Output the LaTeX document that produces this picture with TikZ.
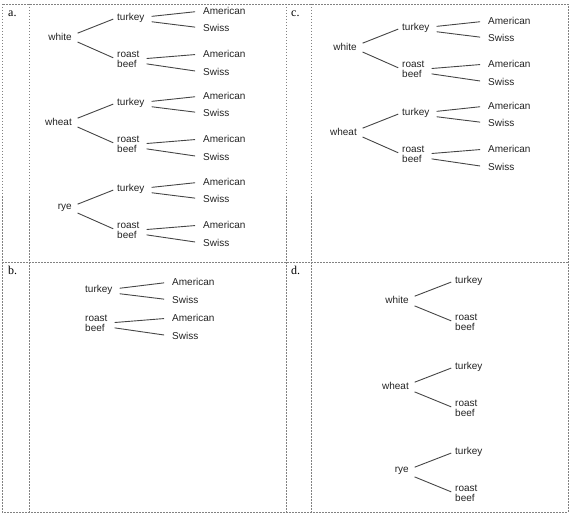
\documentclass[tikz,border=0pt]{standalone}
\usepackage{fontspec}
\setmainfont{Liberation Serif}
\setsansfont{Liberation Sans}
\definecolor{ink}{RGB}{35,35,35}
\definecolor{stem}{RGB}{70,70,70}
\definecolor{rule}{RGB}{130,130,130}
\usetikzlibrary{positioning}

\begin{document}
\begin{tikzpicture}[x=1pt, y=-1pt,
    word/.style={font=\sffamily\fontsize{10}{10}\selectfont, text=ink, align=left, inner sep=1pt},
    tag/.style={font=\fontsize{12}{12}\selectfont, anchor=base west, inner sep=0pt},
    cell/.style={draw=rule, line width=0.6pt, dash pattern=on 1.5pt off 1.5pt},
    limb/.style={draw=stem, line width=0.9pt, shorten <=5pt, shorten >=3pt},
    twig/.style={draw=stem, line width=0.9pt, shorten <=6pt, shorten >=7pt}]
  \useasboundingbox (0,0) rectangle (571,516);
  \draw[cell] (2,4) rectangle (568,512);
  \draw[cell] (2,262) -- (568,262);
  \foreach \x in {29,286,311}{
    \draw[cell] (\x,4) -- (\x,512);
  }
  \node[tag] (taga) at (8,17) {a.};
  \node[tag] (tagb) at (8,275) {b.};
  \node[tag] (tagc) at (291,17) {c.};
  \node[tag] (tagd) at (291,275) {d.};
  \foreach \p/\dx/\r/\bread/\y in {a/0/1/white/37, a/0/2/wheat/122, a/0/3/rye/208, c/285/1/white/47, c/285/2/wheat/132}{
    \node[word, anchor=east] (\p r\r) at (73+\dx,\y) {\bread};
    \node[word, anchor=west] (\p t\r) at (116+\dx,\y-19) {turkey};
    \node[word, anchor=west] (\p b\r) at (116+\dx,\y+22) {roast\\beef};
    \node[word, anchor=west] (\p ta\r) at (202+\dx,\y-26) {American};
    \node[word, anchor=west] (\p ts\r) at (202+\dx,\y-9) {Swiss};
    \node[word, anchor=west] (\p ba\r) at (202+\dx,\y+17) {American};
    \node[word, anchor=west] (\p bs\r) at (202+\dx,\y+35) {Swiss};
    \draw[limb] ([yshift=2pt]\p r\r.east) -- (\p t\r.west);
    \draw[limb] ([yshift=-3pt]\p r\r.east) -- (\p b\r.west);
    \draw[twig] ([yshift=1pt]\p t\r.east) -- (\p ta\r.west);
    \draw[twig] ([yshift=-3pt]\p t\r.east) -- (\p ts\r.west);
    \draw[twig] (\p b\r.east) -- (\p ba\r.west);
    \draw[twig] ([yshift=-4pt]\p b\r.east) -- (\p bs\r.west);
  }
  \node[word, anchor=west] (bt) at (84,290) {turkey};
  \node[word, anchor=west] (bb) at (84,323) {roast\\beef};
  \node[word, anchor=west] (bta) at (171,282) {American};
  \node[word, anchor=west] (bts) at (171,300) {Swiss};
  \node[word, anchor=west] (bba) at (171,318) {American};
  \node[word, anchor=west] (bbs) at (171,336) {Swiss};
  \draw[twig] ([yshift=1pt]bt.east) -- (bta.west);
  \draw[twig] ([yshift=-3pt]bt.east) -- (bts.west);
  \draw[twig] (bb.east) -- (bba.west);
  \draw[twig] ([yshift=-4pt]bb.east) -- (bbs.west);
  \foreach \r/\bread/\y in {1/white/300, 2/wheat/386, 3/rye/471}{
    \node[word, anchor=east] (dr\r) at (410,\y) {\bread};
    \node[word, anchor=west] (dt\r) at (454,\y-19) {turkey};
    \node[word, anchor=west] (db\r) at (454,\y+22) {roast\\beef};
    \draw[limb] ([yshift=2pt]dr\r.east) -- (dt\r.west);
    \draw[limb] ([yshift=-4pt]dr\r.east) -- (db\r.west);
  }
\end{tikzpicture}
\end{document}
